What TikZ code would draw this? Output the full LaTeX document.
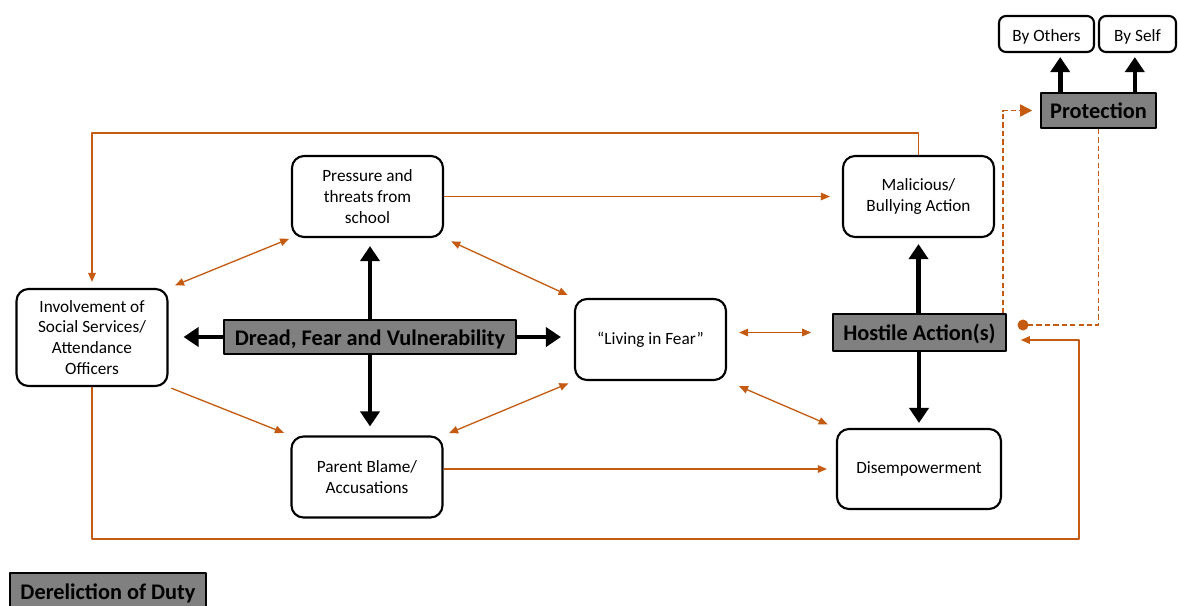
\documentclass[tikz,border=0pt]{standalone}
\usepackage{fontspec}
\setmainfont{Carlito}
\usetikzlibrary{arrows.meta,calc}
\definecolor{rust}{RGB}{197,90,17}
\definecolor{boxgray}{RGB}{128,128,128}
\begin{document}
\begin{tikzpicture}[x=0.2mm, y=-0.2mm, line join=round,
	box/.style={draw, line width=1.2pt, rounded corners=2.4mm, align=center, inner sep=0pt,
		minimum width=30.2mm, minimum height=16.2mm, font=\fontsize{9.8}{11.9}\selectfont},
	tag/.style={draw, line width=1.2pt, rounded corners=1.4mm, inner sep=0pt,
		minimum height=7.2mm, text height=8.6pt, text depth=0.6pt, font=\fontsize{9.8}{11.9}\selectfont},
	gbox/.style={draw, line width=0.9pt, fill=boxgray, inner sep=0pt,
		minimum height=7mm, text height=10.4pt, text depth=1pt, font=\fontsize{12.7}{15}\selectfont\bfseries},
	bigarr/.style={line width=2.6pt, -{Triangle[length=3mm,width=3.8mm]}},
	link/.style={draw=rust, line width=0.75pt, -{Triangle[length=1.8mm,width=1.5mm]}},
	both/.style={draw=rust, line width=0.75pt, {Triangle[length=1.8mm,width=1.5mm]}-{Triangle[length=1.8mm,width=1.5mm]}},
	dashlink/.style={draw=rust, line width=0.9pt, dash pattern=on 3pt off 1.8pt}]
	\useasboundingbox (0,0) rectangle (1178,605);
	% boxes
	\path
	(367.5,196.5) node[box] (pres) {Pressure and\\threats from\\school}
	(918.5,196.5) node[box] (mal) {Malicious/\\Bullying Action}
	(92,337.5) node[box, minimum height=19.4mm] (inv) {Involvement of\\Social Services/\\Attendance\\Officers}
	(650.5,339.5) node[box] (live) {“Living in Fear”}
	(367,477) node[box] (par) {Parent Blame/\\Accusations}
	(919,469) node[box, minimum width=32.8mm, minimum height=16mm] (dis) {Disempowerment};
	\path
	(370,337) node[gbox, minimum width=58.4mm, minimum height=6.8mm] (dread) {Dread, Fear and Vulnerability}
	(919.5,332.5) node[gbox, minimum width=34.6mm, minimum height=7.4mm] (host) {Hostile Action(s)}
	(1098.5,110.5) node[gbox, minimum width=23mm] (prot) {Protection}
	(108,591) node[gbox, minimum width=39.2mm, minimum height=7.2mm] (der) {Dereliction of Duty}
	(1046.5,34) node[tag, minimum width=19mm] (oth) {By Others}
	(1137.5,34) node[tag, minimum width=15.4mm] (self) {By Self};
	% black arrows
	\draw[bigarr, shorten >=1.6mm] (dread.north) -- (dread.north |- pres.south);
	\draw[bigarr, shorten >=1.8mm] (dread.south) -- (dread.south |- par.north);
	\draw[bigarr, shorten >=3mm] (dread.west) -- (dread.west -| inv.east);
	\draw[bigarr, shorten >=2.6mm] (dread.east) -- (dread.east -| live.west);
	\draw[bigarr, shorten >=1.2mm] (mal.south |- host.north) -- (mal.south);
	\draw[bigarr, shorten >=1mm] (dis.north |- host.south) -- (dis.north);
	\draw[bigarr, shorten >=0.8mm] ([xshift=4mm]prot.north west) -- ([xshift=4mm]prot.north west |- oth.south);
	\draw[bigarr, shorten >=0.8mm] ([xshift=-4.4mm]prot.north east) -- ([xshift=-4.4mm]prot.north east |- self.south);
	% orange links
	\draw[link, shorten >=2.4mm] (pres.east) -- (mal.west);
	\draw[link, shorten >=1.8mm] (par.east |- dis.west) -- (dis.west);
	\draw[link, shorten >=1.4mm, shorten <=0.6mm] (inv.south east) -- (par.north west);
	\draw[both, shorten >=1.4mm, shorten <=0.4mm] (pres.south west) -- (inv.north east);
	\draw[both, shorten >=1.4mm, shorten <=1.6mm] (pres.south east) -- (live.north west);
	\draw[both, shorten >=1.2mm, shorten <=1.2mm] (live.south west) -- (par.north east);
	\draw[both, shorten >=1.8mm, shorten <=2.6mm] (live.south east) -- (dis.north west);
	\draw[both, shorten >=4.2mm, shorten <=2.4mm] (live.east |- host.west) -- (host.west);
	\coordinate (topL) at (92,133);
	\coordinate (botR) at (1079,539);
	\draw[link, shorten >=1.2mm] (mal.north) |- (topL) -- (inv.north);
	\draw[link, shorten >=2.8mm] (inv.south) |- (botR) |- ([yshift=-1.5mm]host.east);
	% protection loop
	\coordinate (dot) at (1023,325);
	\draw[dashlink, -{Triangle[length=2.4mm,width=2.4mm]}, shorten >=1.6mm]
		([xshift=-0.8mm]host.north east) |- (prot.west);
	\draw[dashlink] (prot.south) |- (dot);
	\fill[rust] (dot) circle (1.1mm);
\end{tikzpicture}
\end{document}
